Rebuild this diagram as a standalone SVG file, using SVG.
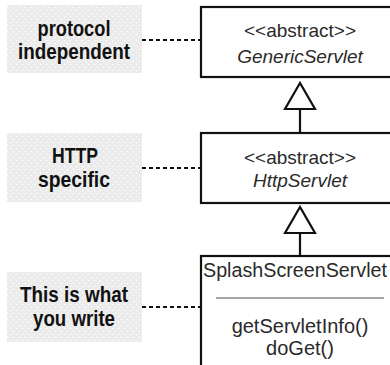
<svg xmlns="http://www.w3.org/2000/svg" width="390" height="365" viewBox="0 0 390 365">
<defs>
<pattern id="dots" width="6" height="6" patternUnits="userSpaceOnUse">
<rect width="6" height="6" fill="#ebebeb"/>
<circle cx="1.5" cy="1.5" r="0.8" fill="#ffffff"/>
<circle cx="4.5" cy="4.5" r="0.8" fill="#ffffff"/>
</pattern>
<style>
.box{fill:#fff;stroke:#111;stroke-width:2.2}
.lbl{fill:url(#dots)}
.lt{font-family:"Liberation Sans",Arial,sans-serif;font-weight:bold;font-size:22px;fill:#111;text-anchor:middle}
.ct{font-family:"Liberation Sans",Arial,sans-serif;font-size:19px;fill:#2a2a2a;text-anchor:middle}
.it{font-style:italic}
.dash{stroke:#111;stroke-width:2;stroke-dasharray:4 3;fill:none}
.gen{stroke:#111;stroke-width:2.2;fill:none}
.tri{fill:#fff;stroke:#111;stroke-width:2.2}
</style>
</defs>
<g id="label-protocol">
<rect class="lbl" x="7" y="5" width="135" height="68"/>
<text class="lt" x="74" y="36" textLength="73" lengthAdjust="spacingAndGlyphs">protocol</text>
<text class="lt" x="74" y="59" textLength="112" lengthAdjust="spacingAndGlyphs">independent</text>
</g>
<g id="label-http">
<rect class="lbl" x="7" y="133" width="135" height="69"/>
<text class="lt" x="75" y="163" textLength="46" lengthAdjust="spacingAndGlyphs">HTTP</text>
<text class="lt" x="74" y="187" textLength="72" lengthAdjust="spacingAndGlyphs">specific</text>
</g>
<g id="label-write">
<rect class="lbl" x="7" y="272" width="135" height="70"/>
<text class="lt" x="74" y="302" textLength="108" lengthAdjust="spacingAndGlyphs">This is what</text>
<text class="lt" x="74" y="326" textLength="82" lengthAdjust="spacingAndGlyphs">you write</text>
</g>
<g id="GenericServlet">
<rect class="box" x="201" y="7" width="200" height="70"/>
<text class="ct" x="300" y="37">&lt;&lt;abstract&gt;&gt;</text>
<text class="ct it" x="300" y="63">GenericServlet</text>
</g>
<g id="HttpServlet">
<rect class="box" x="201" y="133" width="200" height="70"/>
<text class="ct" x="300" y="164">&lt;&lt;abstract&gt;&gt;</text>
<text class="ct it" x="300" y="187">HttpServlet</text>
</g>
<g id="SplashScreenServlet">
<rect class="box" x="201" y="256" width="200" height="120"/>
<text class="ct" x="203" y="277" style="font-size:20px;text-anchor:start" textLength="184" lengthAdjust="spacingAndGlyphs">SplashScreenServlet</text>
<line x1="216" y1="298" x2="384" y2="298" stroke="#888" stroke-width="1.5"/>
<text class="ct" x="300" y="333" style="font-size:20px">getServletInfo()</text>
<text class="ct" x="300" y="355" style="font-size:20px">doGet()</text>
</g>
<g id="connectors">
<line class="dash" x1="142" y1="40" x2="200" y2="40"/>
<line class="dash" x1="142" y1="168" x2="200" y2="168"/>
<line class="dash" x1="142" y1="307" x2="200" y2="307"/>
<line class="gen" x1="300" y1="109" x2="300" y2="133"/>
<polygon class="tri" points="300,83 285,109 315,109"/>
<line class="gen" x1="300" y1="233" x2="300" y2="256"/>
<polygon class="tri" points="300,207 285,233 315,233"/>
</g>
</svg>
